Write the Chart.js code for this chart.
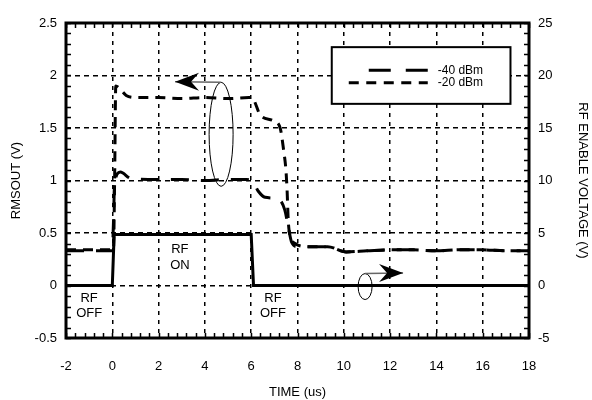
<!DOCTYPE html>
<html>
<head>
<meta charset="utf-8">
<script src="https://cdn.jsdelivr.net/npm/chart.js@4.4.1/dist/chart.umd.min.js"></script>
<style>
  html, body { margin: 0; padding: 0; background: #fff; }
  #wrap { width: 592px; height: 400px; position: relative; }
</style>
</head>
<body>
<div id="wrap"><canvas id="rms-chart"></canvas></div>
<script>
// time axis (us) and the three traces
const time20 = [-2, 0.05, 0.1, 0.15, 0.3, 0.6, 1.0, 2, 3, 4, 5, 5.9, 6.1, 6.4, 6.95, 7.25, 7.4, 7.5, 7.55, 7.6, 7.7, 7.9, 8.4, 9.3, 10.1, 11, 12, 13, 14, 15, 16, 17, 18];
const rms20  = [0.34, 0.34, 1.0, 1.9, 1.88, 1.81, 1.79, 1.79, 1.78, 1.79, 1.78, 1.79, 1.77, 1.62, 1.57, 1.50, 1.29, 1.10, 0.91, 0.62, 0.46, 0.40, 0.37, 0.37, 0.32, 0.33, 0.34, 0.34, 0.33, 0.34, 0.34, 0.33, 0.33];

const time40 = [-2, 0.0, 0.05, 0.1, 0.35, 0.8, 2, 3, 4, 5, 5.8, 6.1, 6.3, 6.6, 7.2, 7.45, 7.6, 7.75, 8.0, 8.4, 9.3, 10.1, 11, 12, 13, 14, 15, 16, 17, 18];
const rms40  = [0.33, 0.33, 0.6, 0.98, 1.08, 1.02, 1.01, 1.01, 1.0, 1.01, 1.01, 0.98, 0.9, 0.84, 0.82, 0.72, 0.56, 0.41, 0.37, 0.37, 0.37, 0.32, 0.33, 0.34, 0.34, 0.33, 0.34, 0.34, 0.33, 0.33];

const timeRF = [-2, 0.0, 0.08, 6.0, 6.1, 18];
const rfEnable = [0, 0, 4.85, 4.85, 0, 0];

const xTicks = [-2, 0, 2, 4, 6, 8, 10, 12, 14, 16, 18];
const seriesNames = ['-40 dBm', '-20 dBm'];

const FONT = '"Liberation Sans", Arial, Helvetica, sans-serif';

function pts(xs, ys) { return xs.map((x, i) => ({ x: x, y: ys[i] })); }

// рамка, мелкие засечки, эллипсы со стрелками, подписи RF ON/OFF, легенда
const decorations = {
  id: 'decorations',
  afterDatasetsDraw(chart) {
    const ctx = chart.ctx;
    const a = chart.chartArea;
    const sx = chart.scales.x, sy = chart.scales.y;
    ctx.save();

    // minor ticks, pointing inward
    ctx.strokeStyle = '#000';
    ctx.lineWidth = 1.5;
    ctx.beginPath();
    for (let v = -0.5; v <= 2.5001; v += 0.1) {
      const py = Math.round(sy.getPixelForValue(v)) + 0.5;
      ctx.moveTo(a.left, py); ctx.lineTo(a.left + 5, py);
      ctx.moveTo(a.right, py); ctx.lineTo(a.right - 5, py);
    }
    for (let t = -2; t <= 18.001; t += 0.4) {
      const px = Math.round(sx.getPixelForValue(t)) + 0.5;
      ctx.moveTo(px, a.top); ctx.lineTo(px, a.top + 5);
      ctx.moveTo(px, a.bottom); ctx.lineTo(px, a.bottom - 5);
    }
    ctx.stroke();

    // frame
    ctx.lineWidth = 3;
    ctx.strokeRect(a.left, a.top, a.right - a.left, a.bottom - a.top);

    function ellipseArrow(cx, cy, rx, ry, tipX, tipY) {
      const ex = sx.getPixelForValue(cx), ey = sy.getPixelForValue(cy);
      const tx = sx.getPixelForValue(tipX), ty = sy.getPixelForValue(tipY);
      ctx.lineWidth = 1;
      ctx.strokeStyle = '#000';
      ctx.beginPath();
      ctx.ellipse(ex, ey, rx, ry, 0, 0, Math.PI * 2);
      ctx.stroke();
      ctx.strokeStyle = '#666';
      ctx.lineWidth = 1.5;
      ctx.beginPath();
      ctx.moveTo(ex, ey - ry); ctx.lineTo(tx, ty);
      ctx.stroke();
      const dir = tx < ex ? 1 : -1;
      ctx.fillStyle = '#000';
      ctx.beginPath();
      ctx.moveTo(tx, ty);
      ctx.lineTo(tx + dir * 24, ty - 9);
      ctx.lineTo(tx + dir * 16, ty);
      ctx.lineTo(tx + dir * 24, ty + 9);
      ctx.closePath();
      ctx.fill();
    }
    ellipseArrow(4.70, 1.44, 12, 52, 2.71, 1.94);
    ellipseArrow(10.92, -0.01, 7, 13, 12.56, 0.12);

    // RF ON / RF OFF
    ctx.fillStyle = '#000';
    ctx.font = '13px ' + FONT;
    ctx.textAlign = 'center';
    ctx.textBaseline = 'middle';
    const notes = [[-1.0, -0.12, 'RF'], [-1.0, -0.27, 'OFF'], [2.92, 0.34, 'RF'], [2.92, 0.195, 'ON'], [6.94, -0.12, 'RF'], [6.94, -0.27, 'OFF']];
    notes.forEach(n => ctx.fillText(n[2], sx.getPixelForValue(n[0]), sy.getPixelForValue(n[1])));

    // legend box (opaque, hides the grid behind it)
    const lx = sx.getPixelForValue(9.48), rx = sx.getPixelForValue(17.2);
    const ty = sy.getPixelForValue(2.27), by = sy.getPixelForValue(1.73);
    ctx.fillStyle = '#fff';
    ctx.fillRect(lx, ty, rx - lx, by - ty);
    ctx.lineWidth = 2;
    ctx.strokeStyle = '#000';
    ctx.strokeRect(lx, ty, rx - lx, by - ty);
    const rowY = [sy.getPixelForValue(2.05), sy.getPixelForValue(1.93)];
    const startX = [lx + 37, lx + 17];
    const legDash = [[22, 15], [10, 7.5]];
    ctx.fillStyle = '#000';
    chart.data.datasets.slice(0, 2).forEach((ds, i) => {
      ctx.save();
      ctx.lineWidth = 3;
      ctx.setLineDash(legDash[i]);
      ctx.beginPath();
      ctx.moveTo(startX[i], rowY[i]); ctx.lineTo(lx + 96, rowY[i]);
      ctx.stroke();
      ctx.restore();
      ctx.textAlign = 'left';
      ctx.textBaseline = 'middle';
      ctx.font = '12px ' + FONT;
      ctx.fillText(ds.label, lx + 106, rowY[i]);
    });

    ctx.restore();
  }
};

const tickFont = { family: FONT, size: 13 };

new Chart(document.getElementById('rms-chart'), {
  type: 'line',
  data: {
    datasets: [
      {
        label: seriesNames[0],
        data: pts(time40, rms40),
        borderColor: '#000',
        borderWidth: 3,
        borderDash: [18, 12],
        pointRadius: 0,
        cubicInterpolationMode: 'monotone',
        fill: false,
        yAxisID: 'y',
      },
      {
        label: seriesNames[1],
        data: pts(time20, rms20),
        borderColor: '#000',
        borderWidth: 3,
        borderDash: [10, 7],
        pointRadius: 0,
        cubicInterpolationMode: 'monotone',
        fill: false,
        yAxisID: 'y',
      },
      {
        label: 'RF ENABLE',
        data: pts(timeRF, rfEnable),
        borderColor: '#000',
        borderWidth: 3,
        pointRadius: 0,
        tension: 0,
        fill: false,
        yAxisID: 'y2',
      },
    ],
  },
  options: {
    responsive: true,
    maintainAspectRatio: false,
    animation: false,
    layout: { padding: { top: 23, left: 0, right: 0, bottom: 0 } },
    plugins: { legend: { display: false }, tooltip: { enabled: false } },
    scales: {
      x: {
        type: 'linear',
        min: -2, max: 18,
        afterBuildTicks: s => { s.ticks = xTicks.map(v => ({ value: v })); },
        afterFit: s => { s.height = 62; },
        grid: { color: '#000', lineWidth: 1.5, drawTicks: false },
        border: { display: false, dash: [4, 5] },
        ticks: { color: '#000', font: tickFont, padding: 21, maxRotation: 0, callback: v => String(v) },
        title: { display: true, text: 'TIME (us)', color: '#000', font: tickFont, padding: { top: 0, bottom: 0 } },
      },
      y: {
        position: 'left',
        min: -0.5, max: 2.5,
        ticks: { stepSize: 0.5, color: '#000', font: tickFont, padding: 9, callback: v => String(v) },
        afterFit: s => { s.width = 66; },
        grid: { color: '#000', lineWidth: 1.5, drawTicks: false },
        border: { display: false, dash: [5, 4] },
        title: { display: true, text: 'RMSOUT (V)', color: '#000', font: tickFont, padding: { top: 9, bottom: 0 } },
      },
      y2: {
        position: 'right',
        min: -5, max: 25,
        ticks: { stepSize: 5, color: '#000', font: tickFont, padding: 9, callback: v => String(v) },
        afterFit: s => { s.width = 63; },
        grid: { display: false, drawTicks: false },
        border: { display: false },
        title: { display: true, text: 'RF ENABLE VOLTAGE (V)', color: '#000', font: tickFont, padding: { top: 2, bottom: 0 } },
      },
    },
  },
  plugins: [decorations],
});
</script>
</body>
</html>
